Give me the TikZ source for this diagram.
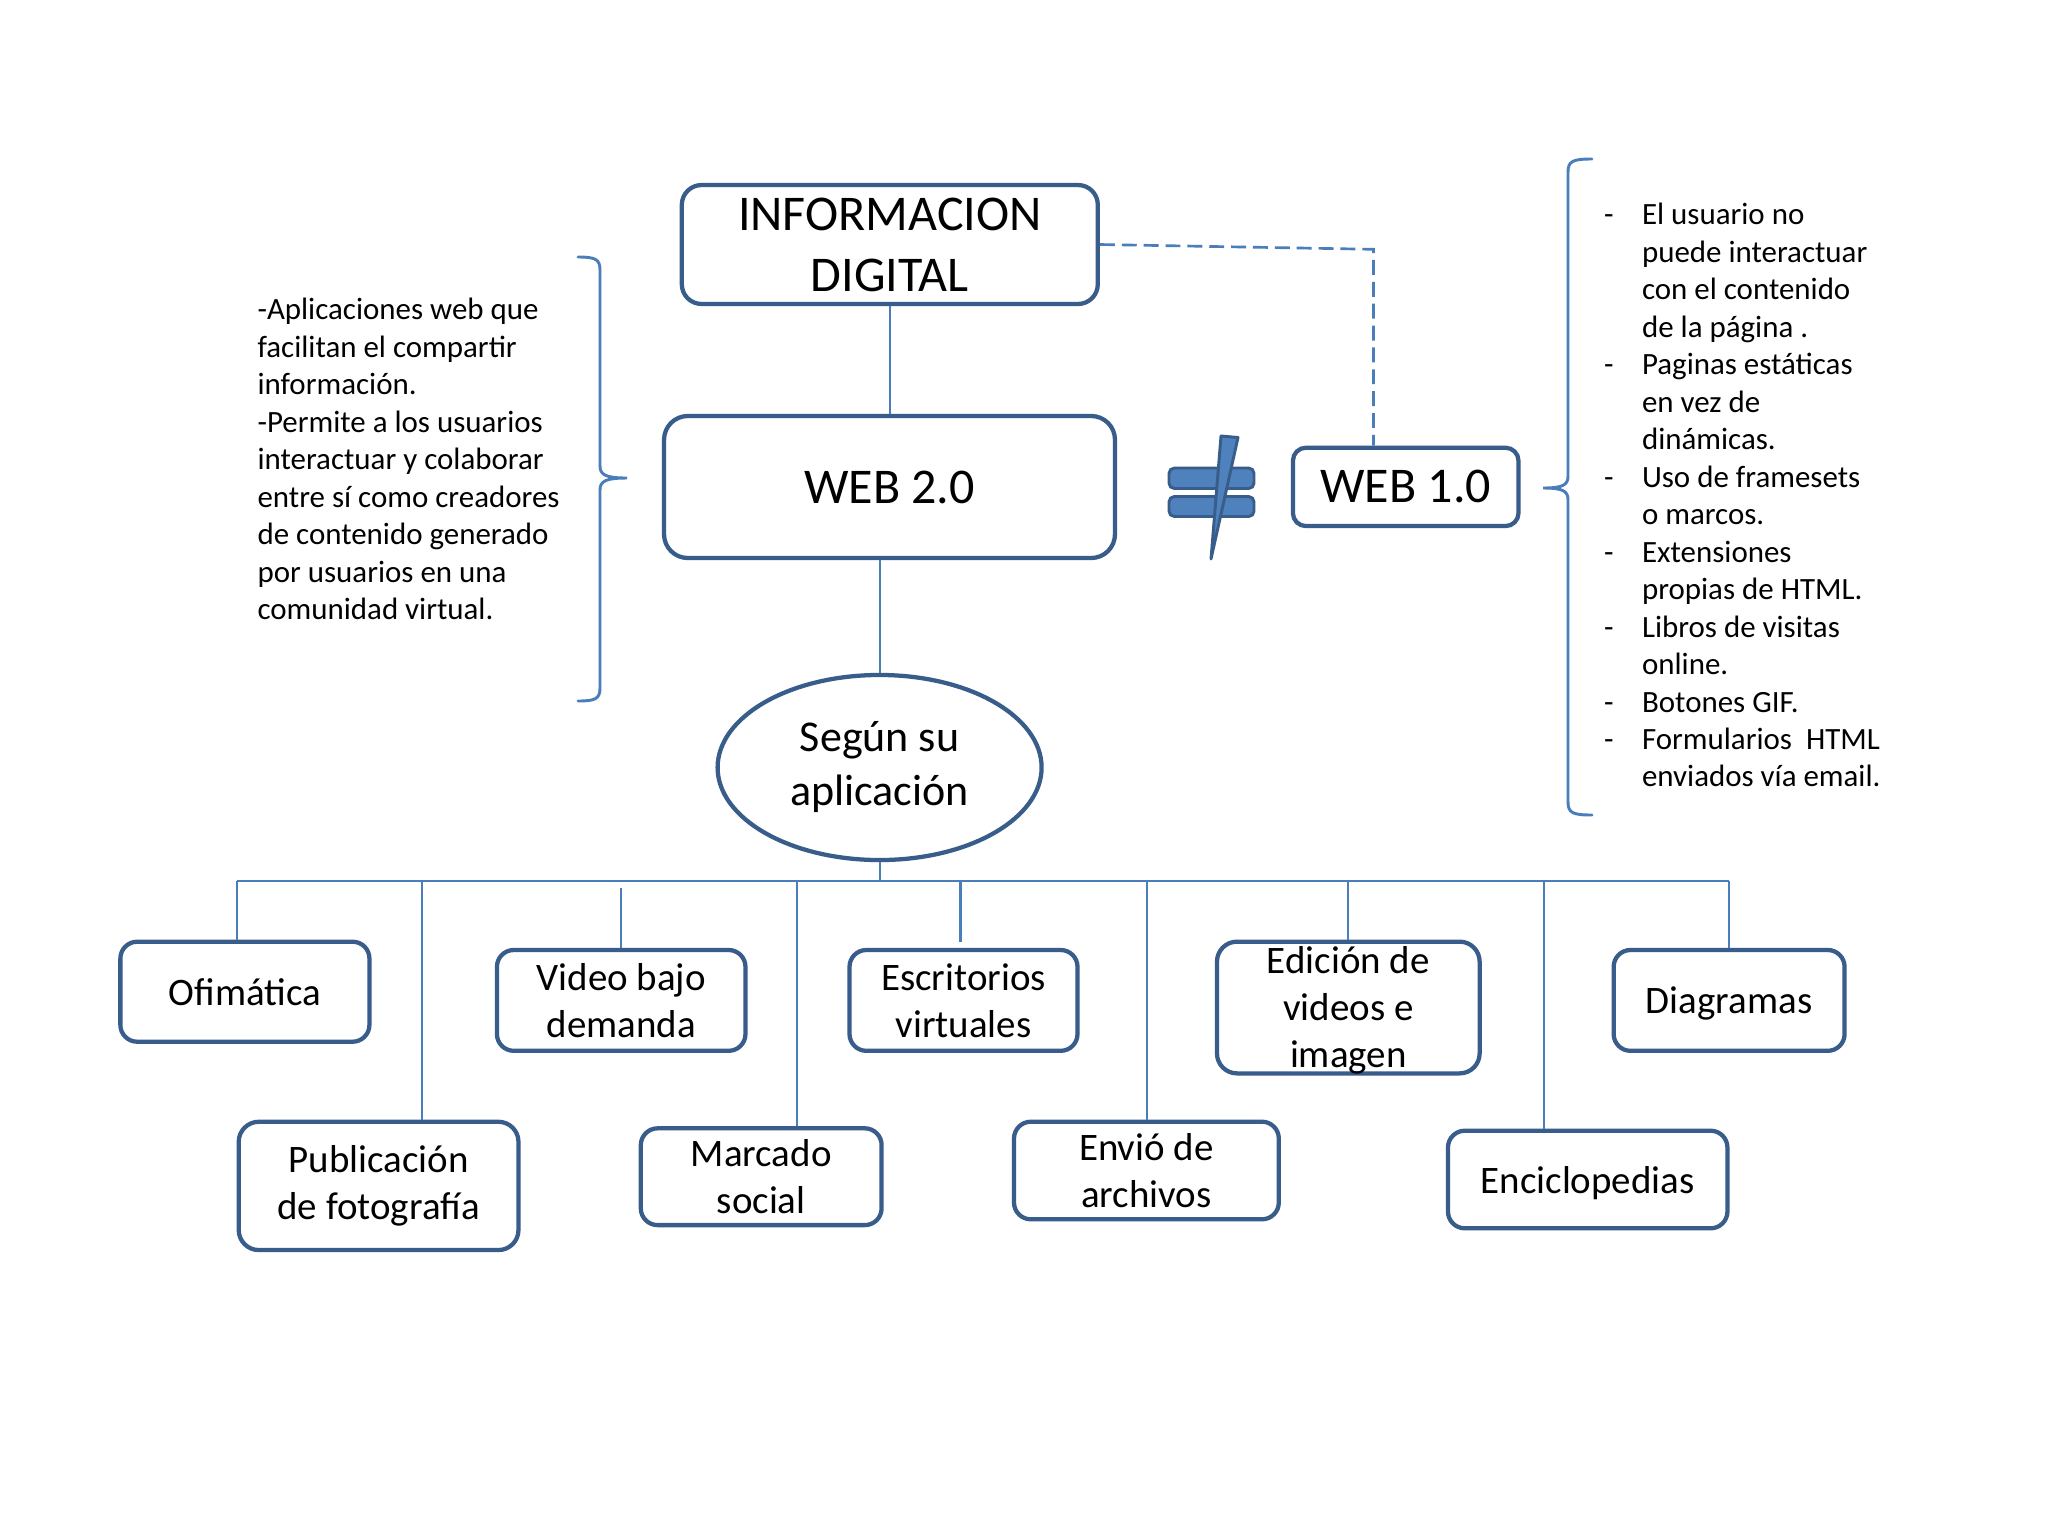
\documentclass[tikz,border=0pt]{standalone}
\usepackage{fontspec}
\setmainfont{Carlito}
\usetikzlibrary{shapes.geometric}
\definecolor{bordc}{RGB}{56,93,138}
\definecolor{linec}{RGB}{74,126,187}
\definecolor{fillc}{RGB}{79,129,189}
\newcommand\fBig{\fontsize{18.75pt}{22.9pt}\selectfont}
\newcommand\fEll{\fontsize{16.5pt}{20.25pt}\selectfont}
\newcommand\fBox{\fontsize{14.6pt}{17.6pt}\selectfont}
\newcommand\fSide{\fontsize{11.6pt}{14.06pt}\selectfont}
\newcommand\rdash{\makebox[14.25pt][l]{-}}
\newcommand\rind{\hspace*{14.25pt}}
\begin{document}
\begin{tikzpicture}[x=0.375pt,y=-0.375pt,
  bx/.style={draw=bordc, line width=1.6pt, rounded corners=6.3pt, rectangle, inner sep=0pt, align=center, font=\fBox, fill=white},
  conn/.style={draw=linec, line width=0.8pt},
  brace/.style={draw=linec, line width=1.1pt, line cap=round},
  neq/.style={draw=bordc, fill=fillc, line width=1.1pt, line join=round}]
\fill[white] (0,0) rectangle (2048,1536);
\useasboundingbox (0,0) rectangle (2048,1536);

% main nodes
\node[bx, minimum width=156pt, minimum height=44.6pt, rounded corners=7.4pt, font=\fBig] (info) at (889.8,244.5) {INFORMACION\\DIGITAL};
\node[bx, minimum width=169.1pt, minimum height=53.25pt, rounded corners=8.9pt, font=\fBig] (web2) at (889.5,487) {WEB 2.0};
\node[bx, minimum width=84.6pt, minimum height=29.4pt, rounded corners=4.9pt, font=\fBig] (web1) at (1405.7,486.9) {WEB 1.0};
\node[ellipse, draw=bordc, line width=1.6pt, fill=white, minimum width=121.5pt, minimum height=69.4pt, inner sep=0pt, align=center, font=\fEll] (segun) at (879.6,767.5) {Según su\\aplicación};

% leaf boxes
\node[bx, minimum width=93.4pt, minimum height=37.5pt] (ofi) at (244.9,991.7) {Ofimática};
\node[bx, minimum width=104.9pt, minimum height=48.1pt, rounded corners=7.5pt] (pub) at (378.6,1185.9) {Publicación\\de fotografía};
\node[bx, minimum width=93.2pt, minimum height=37.8pt] (vid) at (621.2,1000.4) {Video bajo\\demanda};
\node[bx, minimum width=90.3pt, minimum height=36.3pt] (mar) at (761.2,1176.7) {Marcado\\social};
\node[bx, minimum width=85.5pt, minimum height=37.8pt] (esc) at (963.5,1000.4) {Escritorios\\virtuales};
\node[bx, minimum width=99.3pt, minimum height=36.6pt] (env) at (1146.4,1170.5) {Envió de\\archivos};
\node[bx, minimum width=98.5pt, minimum height=49.4pt, rounded corners=7.5pt] (edi) at (1348.3,1007.5) {};
\node[font=\fBox, align=center, inner sep=0pt] (editxt) at ([yshift=-1pt]edi.center) {Edición de\\videos e\\imagen};
\node[bx, minimum width=86.6pt, minimum height=37.8pt, text depth=0pt] (dia) at (1729.1,1000.4) {Diagramas};
\node[bx, minimum width=104.8pt, minimum height=36.6pt, text depth=0pt] (enc) at (1587.7,1179.5) {Enciclopedias};

% connectors
\draw[conn] (info.south) -- (info.south |- web2.north);
\draw[conn] (web2.south -| segun.north) -- (segun.north);
\coordinate (bm) at (879.6,880.7);
\draw[conn] (segun.south) -- (bm);
\coordinate (bL) at (236.7,880.7);
\coordinate (bR) at (1728.8,880.7);
\draw[conn] (bL) -- (bR);
\coordinate (c1) at (236.7,880.7);
\coordinate (c2) at (422.4,880.7);
\coordinate (c3) at (621,888.3);
\coordinate (c4) at (797.4,880.7);
\coordinate (c5) at (960.5,880.7);
\coordinate (c5e) at (960.5,941.7);
\coordinate (c6) at (1147.4,880.7);
\coordinate (c7) at (1347.7,880.7);
\coordinate (c8) at (1543.9,880.7);
\coordinate (c9) at (1728.8,880.7);
\draw[conn] (c1) -- (c1 |- ofi.north);
\draw[conn] (c2) -- (c2 |- pub.north);
\draw[conn] (c3) -- (c3 |- vid.north);
\draw[conn] (c4) -- (c4 |- mar.north);
\draw[conn] (c5) -- (c5e);
\draw[conn] (c6) -- (c6 |- env.north);
\draw[conn] (c7) -- (c7 |- edi.north);
\draw[conn] (c8) -- (c8 |- enc.north);
\draw[conn] (c9) -- (c9 |- dia.north);

% dashed link
\coordinate (dk) at (1373.5,249.3);
\draw[conn, line width=1pt, dash pattern=on 5.6pt off 2.6pt] (info.east) -- (dk) -- (dk |- web1.north);

% not-equal sign
\filldraw[neq, rounded corners=2pt] (1169,468) rectangle (1254,488.5);
\filldraw[neq, rounded corners=2pt] (1169,496.5) rectangle (1254,516.5);
\filldraw[neq] (1221,436) -- (1238,437.5) -- (1211,559) -- cycle;

% braces
\draw[brace] (578,257) .. controls (595,257) and (600,259) .. (600,270) -- (600,466) .. controls (600,475) and (606,478) .. (627,478) .. controls (606,478) and (600,481) .. (600,490) -- (600,688) .. controls (600,699) and (595,701) .. (578,701);
\draw[brace] (1592,159) .. controls (1573,159) and (1568,161) .. (1568,172) -- (1568,476) .. controls (1568,485) and (1563,488) .. (1543,488) .. controls (1563,488) and (1568,491) .. (1568,500) -- (1568,802) .. controls (1568,813) and (1573,815) .. (1592,815);

% side texts
\node[anchor=north west, inner sep=0pt, align=left, font=\fSide] (ltext) at (257,293.1) {\strut-Aplicaciones web que\\facilitan el compartir\\información.\\-Permite a los usuarios\\interactuar y colaborar\\entre sí como creadores\\de contenido generado\\por usuarios en una\\comunidad virtual.};
\node[anchor=north west, inner sep=0pt, align=left, font=\fSide] (rtext) at (1603.5,197.8) {\strut\rdash El usuario no\\\rind puede interactuar\\\rind con el contenido\\\rind de la página .\\\rdash Paginas estáticas\\\rind en vez de\\\rind dinámicas.\\\rdash Uso de framesets\\\rind o marcos.\\\rdash Extensiones\\\rind propias de HTML.\\\rdash Libros de visitas\\\rind online.\\\rdash Botones GIF.\\\rdash Formularios\ \ HTML\\\rind enviados vía email.};
\end{tikzpicture}
\end{document}
